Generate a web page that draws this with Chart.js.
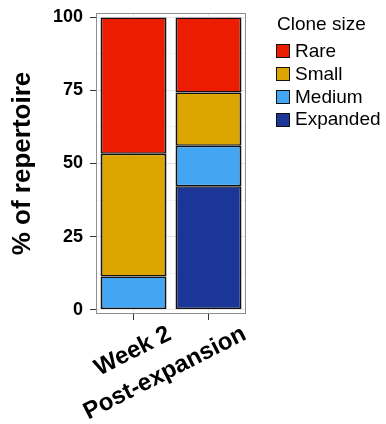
<!DOCTYPE html>
<html lang="en">
<head>
<meta charset="UTF-8">
<title>Clone size</title>
<script src="https://cdn.jsdelivr.net/npm/chart.js"></script>
<style>
  html, body { margin: 0; padding: 0; background: #fff; }
  #caixa { width: 386px; height: 424px; position: relative; }
  #legenda {
    position: absolute; left: 276px; top: 13px;
    font-family: 'Liberation Sans', Arial, sans-serif; font-size: 19px; color: #000;
  }
  #legenda .titulo { line-height: 22px; margin-left: 1px; margin-bottom: 5px; }
  #legenda .item { display: flex; align-items: center; height: 22.8px; line-height: 22.8px; }
  #legenda .cor {
    width: 14px; height: 14px; box-sizing: border-box;
    border: 1.5px solid #111; margin-right: 5px;
  }
</style>
</head>
<body>
<div id="caixa">
  <canvas id="grafico"></canvas>
  <div id="legenda"></div>
</div>

<script>
  // dados
  const categorias = ['Week 2', 'Post-expansion'];
  const rare = [46.7, 25.7];
  const small = [42.0, 18.2];
  const medium = [11.3, 13.9];
  const expanded = [0, 42.2];
  const yTicks = [0, 25, 50, 75, 100];
  const yMinor = [12.5, 37.5, 62.5, 87.5];

  const fonte = "'Liberation Sans', Arial, sans-serif";
  Chart.defaults.font.family = fonte;
  Chart.defaults.color = '#000';

  const borda = { left: 2, right: 2, top: 1.5, bottom: 1.5 };

  function serie(nome, valores, cor) {
    return {
      label: nome,
      data: valores,
      backgroundColor: cor,
      borderColor: '#111',
      borderWidth: borda,
      borderSkipped: false,
      barPercentage: 0.88,
      categoryPercentage: 1
    };
  }

  // moldura cinza do painel
  const moldura = {
    id: 'moldura',
    beforeDatasetsDraw(chart) {
      const a = chart.chartArea;
      const ctx = chart.ctx;
      ctx.save();
      ctx.strokeStyle = '#8f8f8f';
      ctx.lineWidth = 1;
      ctx.strokeRect(Math.round(a.left) + 0.5, Math.round(a.top) + 0.5,
        Math.round(a.right - a.left) - 1, Math.round(a.bottom - a.top) - 1);
      ctx.restore();
    }
  };

  // legenda em html, montada a partir dos datasets
  const legendaHtml = {
    id: 'legendaHtml',
    afterUpdate(chart) {
      const caixa = document.getElementById('legenda');
      caixa.innerHTML = '';
      const titulo = document.createElement('div');
      titulo.className = 'titulo';
      titulo.textContent = 'Clone size';
      caixa.appendChild(titulo);
      chart.data.datasets.slice().reverse().forEach(ds => {
        const linha = document.createElement('div');
        linha.className = 'item';
        const cor = document.createElement('span');
        cor.className = 'cor';
        cor.style.background = ds.backgroundColor;
        const texto = document.createElement('span');
        texto.textContent = ds.label;
        linha.appendChild(cor);
        linha.appendChild(texto);
        caixa.appendChild(linha);
      });
    }
  };

  function desenhar() {
    new Chart(document.getElementById('grafico'), {
      type: 'bar',
      data: {
        labels: categorias,
        datasets: [
          serie('Expanded', expanded, '#1b3696'),
          serie('Medium', medium, '#42a6f5'),
          serie('Small', small, '#dca500'),
          serie('Rare', rare, '#ec1c00')
        ]
      },
      options: {
        responsive: true,
        maintainAspectRatio: false,
        animation: false,
        devicePixelRatio: 1,
        layout: { padding: { top: 13, right: 140, bottom: -2.5, left: 0 } },
        plugins: {
          tooltip: { enabled: false },
          legend: { display: false }
        },
        scales: {
          x: {
            stacked: true,
            grid: { offset: false, color: '#ececec', tickColor: '#333', tickLength: 6 },
            border: { display: false },
            ticks: {
              autoSkip: false,
              minRotation: 27,
              maxRotation: 27,
              padding: 2,
              labelOffset: 36,
              color: '#000',
              font: { size: 24, weight: 'bold', lineHeight: 1 }
            },
            // os rotulos giram para dentro do painel, nao precisam de margem extra
            afterFit(eixo) {
              eixo.paddingLeft = 0;
              eixo.paddingRight = 0;
            }
          },
          y: {
            stacked: true,
            min: -1.5,
            max: 101.5,
            afterBuildTicks(eixo) {
              eixo.ticks = yTicks.concat(yMinor).sort((a, b) => a - b).map(v => ({ value: v }));
            },
            grid: {
              color: c => yTicks.includes(c.tick.value) ? '#e6e6e6' : '#f3f3f3',
              tickColor: c => yTicks.includes(c.tick.value) ? '#333' : 'rgba(0,0,0,0)',
              tickLength: 6
            },
            border: { display: false },
            ticks: {
              padding: 7,
              color: '#000',
              font: { size: 18, weight: 'bold', lineHeight: 0.5 },
              callback: v => yTicks.includes(v) ? String(v) : ''
            },
            title: {
              display: true,
              text: '% of repertoire',
              color: '#000',
              font: { size: 26, weight: 'bold', lineHeight: 1.2 },
              padding: { top: 7.4, bottom: 7.4 }
            }
          }
        }
      },
      plugins: [moldura, legendaHtml]
    });
  }

  // carrega as fontes antes, para o Chart.js medir os textos certo
  const fontes = [
    "bold 18px 'Liberation Sans'", "bold 24px 'Liberation Sans'",
    "bold 26px 'Liberation Sans'", "19px 'Liberation Sans'"
  ];
  if (document.fonts && document.fonts.load) {
    Promise.all(fontes.map(f => document.fonts.load(f))).then(desenhar, desenhar);
  } else {
    desenhar();
  }
</script>
</body>
</html>
